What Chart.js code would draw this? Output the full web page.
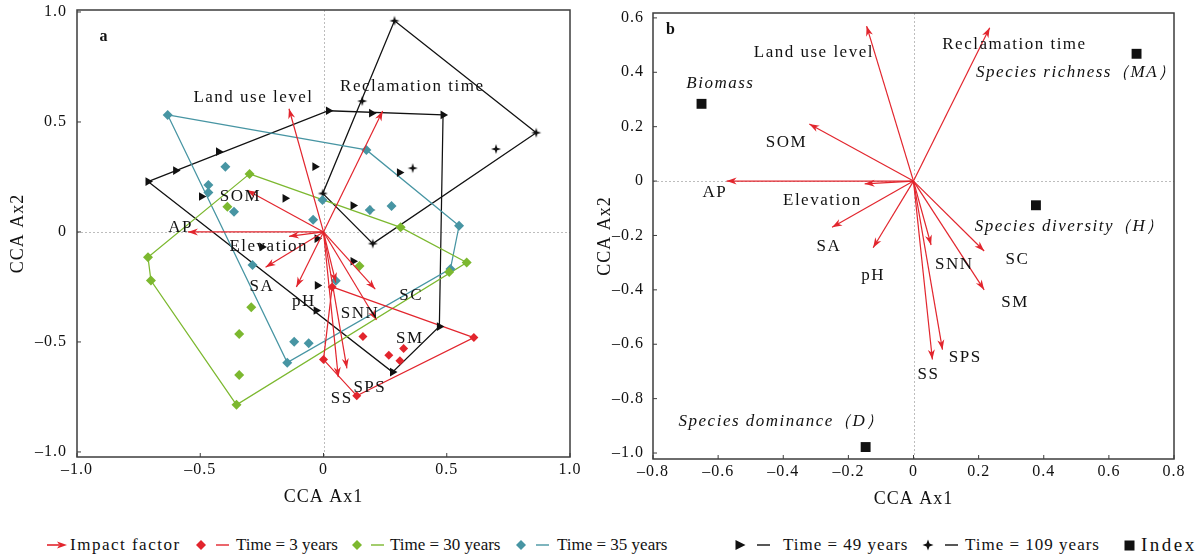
<!DOCTYPE html>
<html>
<head>
<meta charset="utf-8">
<script src="https://cdn.jsdelivr.net/npm/chart.js@4.4.1/dist/chart.umd.min.js"></script>
<style>
  body { margin: 0; background: #fff; width: 1195px; height: 558px; overflow: hidden; position: relative;
         font-family: "Liberation Serif", "Times New Roman", serif; color: #111; }
  #ca { position: absolute; left: 0; top: 0; }
  #cb { position: absolute; left: 592px; top: 0; }
  #legend { position: absolute; left: 0; top: 534px; width: 1195px; height: 22px; font-size: 17px; white-space: nowrap; overflow: hidden; }
  #legend > span { position: absolute; top: 0; height: 22px; display: flex; align-items: center; }
  #legend svg { display: block; }
</style>
</head>
<body>
<canvas id="ca" width="592" height="515"></canvas>
<canvas id="cb" width="603" height="515"></canvas>
<div id="legend"></div>
<script>
// ---- data ----
const factorNames = ['Land use level', 'Reclamation time', 'SOM', 'AP', 'Elevation', 'SA', 'pH', 'SNN', 'SC', 'SM', 'SPS', 'SS'];

// panel a: arrow tips
const factorXa = [-0.14, 0.24, -0.31, -0.55, -0.14, -0.235, -0.11, 0.05, 0.21, 0.215, 0.095, 0.06];
const factorYa = [0.56, 0.55, 0.19, 0.0, -0.02, -0.16, -0.25, -0.23, -0.26, -0.40, -0.62, -0.66];
// panel a: where the factor names sit
const labelXa = [-0.284, 0.36, -0.337, -0.58, -0.222, -0.25, -0.08, 0.148, 0.356, 0.35, 0.188, 0.074];
const labelYa = [0.609, 0.66, 0.159, 0.022, -0.068, -0.25, -0.315, -0.372, -0.288, -0.485, -0.706, -0.756];

// panel b: arrow tips
const factorXb = [-0.144, 0.234, -0.32, -0.574, -0.15, -0.25, -0.124, 0.054, 0.217, 0.217, 0.089, 0.058];
const factorYb = [0.57, 0.564, 0.21, 0.0, -0.01, -0.17, -0.245, -0.235, -0.257, -0.40, -0.62, -0.656];
const labelXb = [-0.306, 0.31, -0.39, -0.61, -0.28, -0.26, -0.124, 0.125, 0.319, 0.312, 0.159, 0.046];
const labelYb = [0.472, 0.503, 0.141, -0.043, -0.071, -0.239, -0.349, -0.306, -0.288, -0.447, -0.65, -0.711];

const seriesNames = ['Time = 3 years', 'Time = 30 years', 'Time = 35 years', 'Time = 49 years', 'Time = 109 years'];

const t3x = [0.035, 0.16, 0.265, 0.325, 0.31, 0.0, 0.135, 0.61];
const t3y = [-0.25, -0.475, -0.56, -0.53, -0.585, -0.58, -0.745, -0.48];
const hull3 = [0, 7, 6, 5, 0];

const t30x = [-0.30, -0.39, 0.313, 0.146, 0.581, 0.51, -0.293, -0.342, -0.342, -0.353, -0.70, -0.712];
const t30y = [0.264, 0.115, 0.021, -0.155, -0.139, -0.182, -0.342, -0.464, -0.65, -0.786, -0.221, -0.115];
const hull30 = [0, 2, 4, 9, 10, 11, 0];

const t35x = [-0.632, 0.174, -0.398, -0.467, -0.467, -0.363, -0.042, -0.004, 0.188, 0.276, 0.55, -0.288, 0.05, -0.119, -0.06, -0.147, 0.515];
const t35y = [0.532, 0.373, 0.297, 0.214, 0.179, 0.092, 0.055, 0.145, 0.10, 0.118, 0.028, -0.15, -0.222, -0.499, -0.506, -0.594, -0.168];
const hull35 = [0, 1, 10, 16, 15, 0];

const t49x = [-0.712, -0.60, -0.426, 0.02, 0.195, 0.485, -0.035, 0.308, -0.495, -0.156, 0.12, -0.026, -0.25, 0.12, -0.025, -0.03, 0.28, 0.47];
const t49y = [0.229, 0.279, 0.365, 0.551, 0.54, 0.532, 0.297, 0.27, 0.161, 0.153, 0.12, -0.03, -0.068, -0.133, -0.243, -0.357, -0.637, -0.43];
const hull49 = [0, 3, 5, 17, 16, 0];

const t109x = [0.288, 0.863, 0.70, 0.362, 0.19, 0.157, -0.003, 0.2];
const t109y = [0.96, 0.451, 0.377, 0.29, 0.10, 0.595, 0.175, -0.053];
const hull109 = [0, 1, 7, 6, 0];

const indexNames = ['Species richness（MA）', 'Biomass', 'Species diversity（H）', 'Species dominance（D）'];
const indexX = [0.685, -0.651, 0.376, -0.147];
const indexY = [0.468, 0.284, -0.089, -0.978];
const indexLabelX = [0.5, -0.593, 0.48, -0.405];
const indexLabelY = [0.398, 0.358, -0.169, -0.885];

const ticksA = [-1, -0.5, 0, 0.5, 1];
const ticksBx = [-0.8, -0.6, -0.4, -0.2, 0, 0.2, 0.4, 0.6, 0.8];
const ticksBy = [-1, -0.8, -0.6, -0.4, -0.2, 0, 0.2, 0.4, 0.6];

// ---- styling ----
const serif = '"Liberation Serif", "Times New Roman", serif';
const red = '#e2252d', green = '#7cb82f', teal = '#4795a3', black = '#111111';
Chart.defaults.font.family = serif;
Chart.defaults.font.size = 16;
Chart.defaults.color = '#111';

function makeStar(r, color) {
  const c = document.createElement('canvas');
  c.width = c.height = 2 * r + 2;
  const g = c.getContext('2d');
  const m = r + 1;
  g.beginPath();
  for (let i = 0; i < 8; i++) {
    const a = i * Math.PI / 4 - Math.PI / 2;
    const rr = i % 2 === 0 ? r : r * 0.33;
    g.lineTo(m + rr * Math.cos(a), m + rr * Math.sin(a));
  }
  g.closePath();
  g.fillStyle = color;
  g.fill();
  return c;
}
const star = makeStar(5, black);

const groups = [
  {xs: t3x, ys: t3y, hull: hull3, color: red, style: 'rectRot', r: 4.5, rot: 0},
  {xs: t30x, ys: t30y, hull: hull30, color: green, style: 'rectRot', r: 5, rot: 0},
  {xs: t35x, ys: t35y, hull: hull35, color: teal, style: 'rectRot', r: 5, rot: 0},
  {xs: t49x, ys: t49y, hull: hull49, color: black, style: 'triangle', r: 5, rot: 90},
  {xs: t109x, ys: t109y, hull: hull109, color: black, style: star, r: 5, rot: 0}
];

function tickText(v) {
  if (Math.abs(v) < 1e-9) return '0';
  return (v < 0 ? '\u2013' : '') + Math.abs(v).toFixed(1);
}

function axis(o) {
  return {
    type: 'linear', min: o.min, max: o.max,
    grid: {display: false, drawTicks: false}, border: {display: false},
    afterBuildTicks: s => { s.ticks = o.ticks.map(v => ({value: v})); },
    afterFit: s => {
      if (o.width) s.width = o.width;
      if (o.height) s.height = o.height;
      // no extra room for overhanging tick labels: the frame is placed by hand
      s.paddingTop = 0; s.paddingBottom = 0; s.paddingLeft = 0; s.paddingRight = 0;
    },
    ticks: {padding: o.pad, autoSkip: false, maxRotation: 0, callback: v => tickText(v)},
    title: {display: true, text: o.title, font: {size: 18}, padding: o.titlePad}
  };
}

function arrowSets(xs, ys) {
  return xs.map((v, i) => ({
    isArrow: true, showLine: true, borderColor: red, borderWidth: 1.2,
    pointRadius: 0, data: [{x: 0, y: 0}, {x: v, y: ys[i]}]
  }));
}

const spacing = {
  id: 'spacing',
  beforeDraw(chart) { chart.ctx.letterSpacing = '1px'; }
};

function makeFrame(letter, lx, ly) {
  return {
    id: 'frame',
    beforeDatasetsDraw(chart) {
      const {ctx, chartArea: a, scales: {x, y}} = chart;
      ctx.save();
      ctx.strokeStyle = '#bdbdbd'; ctx.lineWidth = 1; ctx.setLineDash([2, 2]);
      const x0 = Math.round(x.getPixelForValue(0)) + 0.5;
      const y0 = Math.round(y.getPixelForValue(0)) + 0.5;
      ctx.beginPath();
      ctx.moveTo(x0, a.top); ctx.lineTo(x0, a.bottom);
      ctx.moveTo(a.left, y0); ctx.lineTo(a.right, y0);
      ctx.stroke();
      ctx.restore();
    },
    afterDatasetsDraw(chart) {
      const {ctx, chartArea: a, scales: {x, y}} = chart;
      ctx.save();
      ctx.strokeStyle = '#3c3c3c'; ctx.lineWidth = 1.5;
      ctx.strokeRect(a.left, a.top, a.right - a.left, a.bottom - a.top);
      ctx.lineWidth = 1;
      ctx.beginPath();
      x.ticks.forEach(t => { const p = x.getPixelForValue(t.value); ctx.moveTo(p, a.bottom); ctx.lineTo(p, a.bottom - 4); });
      y.ticks.forEach(t => { const p = y.getPixelForValue(t.value); ctx.moveTo(a.left, p); ctx.lineTo(a.left + 4, p); });
      ctx.stroke();
      ctx.font = 'bold 16px ' + serif; ctx.fillStyle = '#111';
      ctx.textAlign = 'center'; ctx.textBaseline = 'middle';
      ctx.fillText(letter, a.left + lx, a.top + ly);
      ctx.restore();
    }
  };
}

const arrowHeads = {
  id: 'arrowHeads',
  afterDatasetsDraw(chart) {
    const ctx = chart.ctx;
    chart.data.datasets.forEach((ds, i) => {
      if (!ds.isArrow) return;
      const pts = chart.getDatasetMeta(i).data;
      const a = pts[0], b = pts[1];
      const ang = Math.atan2(b.y - a.y, b.x - a.x);
      ctx.save();
      ctx.translate(b.x, b.y); ctx.rotate(ang);
      ctx.beginPath();
      ctx.moveTo(0, 0); ctx.lineTo(-10, -3.5); ctx.lineTo(-7, 0); ctx.lineTo(-10, 3.5);
      ctx.closePath();
      ctx.fillStyle = ds.borderColor; ctx.fill();
      ctx.restore();
    });
  }
};

function makeLabels(items) {
  return {
    id: 'labels',
    afterDatasetsDraw(chart) {
      const {ctx, scales: {x, y}} = chart;
      ctx.save();
      ctx.fillStyle = '#111'; ctx.textAlign = 'center'; ctx.textBaseline = 'middle';
      ctx.letterSpacing = '1.5px';
      items.forEach(it => {
        ctx.font = (it.italic ? 'italic ' : '') + '17px ' + serif;
        ctx.fillText(it.text, x.getPixelForValue(it.x), y.getPixelForValue(it.y));
      });
      ctx.restore();
    }
  };
}

// ---- panel a ----
const dataA = arrowSets(factorXa, factorYa);
groups.forEach(g => {
  dataA.push({
    data: g.xs.map((v, i) => ({x: v, y: g.ys[i]})),
    pointStyle: g.style, pointRadius: g.r, pointRotation: g.rot,
    backgroundColor: g.color, borderColor: g.color, borderWidth: 0
  });
});
groups.forEach(g => {
  dataA.push({
    data: g.hull.map(i => ({x: g.xs[i], y: g.ys[i]})),
    showLine: true, borderColor: g.color, borderWidth: 1.25, pointRadius: 0
  });
});

new Chart(document.getElementById('ca'), {
  type: 'scatter',
  data: {datasets: dataA},
  options: {
    responsive: false, animation: false, devicePixelRatio: 1,
    layout: {autoPadding: false, padding: {left: 0, right: 22, top: 10, bottom: 0}},
    plugins: {legend: {display: false}, tooltip: {enabled: false}},
    scales: {
      x: axis({min: -1, max: 1, ticks: ticksA, height: 58, pad: 3, title: 'CCA Ax1', titlePad: {top: 0, bottom: 7}}),
      y: axis({min: -1.023, max: 1.009, ticks: ticksA, width: 77, pad: 10, title: 'CCA Ax2', titlePad: {top: 7, bottom: 0}})
    }
  },
  plugins: [spacing, makeFrame('a', 27, 27), arrowHeads,
    makeLabels(factorNames.map((t, i) => ({text: t, x: labelXa[i], y: labelYa[i]})))]
});

// ---- panel b ----
const dataB = arrowSets(factorXb, factorYb);
dataB.push({
  data: indexX.map((v, i) => ({x: v, y: indexY[i]})),
  pointStyle: 'rect', pointRadius: 7, backgroundColor: black, borderWidth: 0
});

new Chart(document.getElementById('cb'), {
  type: 'scatter',
  data: {datasets: dataB},
  options: {
    responsive: false, animation: false, devicePixelRatio: 1,
    layout: {autoPadding: false, padding: {left: 0, right: 21, top: 13, bottom: 0}},
    plugins: {legend: {display: false}, tooltip: {enabled: false}},
    scales: {
      x: axis({min: -0.8, max: 0.8, ticks: ticksBx, height: 56, pad: 3, title: 'CCA Ax1', titlePad: {top: 0, bottom: 5}}),
      y: axis({min: -1.022, max: 0.618, ticks: ticksBy, width: 61, pad: 9, title: 'CCA Ax2', titlePad: {top: 2, bottom: 0}})
    }
  },
  plugins: [spacing, makeFrame('b', 18, 17), arrowHeads,
    makeLabels(factorNames.map((t, i) => ({text: t, x: labelXb[i], y: labelYb[i]}))
      .concat(indexNames.map((t, i) => ({text: t, x: indexLabelX[i], y: indexLabelY[i], italic: true}))))]
});

// ---- legend ----
function symbolSvg(kind, color) {
  if (kind === 'arrow') return '<svg width="20" height="10"><line x1="0" y1="5" x2="12" y2="5" stroke="' + color + '" stroke-width="1.6"/><polygon points="20,5 10,1.5 12.5,5 10,8.5" fill="' + color + '"/></svg>';
  if (kind === 'diamond') return '<svg width="12" height="12"><polygon points="6,1 11,6 6,11 1,6" fill="' + color + '"/></svg>';
  if (kind === 'triangle') return '<svg width="12" height="12"><polygon points="1.5,1 11.5,6 1.5,11" fill="' + color + '"/></svg>';
  if (kind === 'star') return '<svg width="12" height="12"><polygon points="6,0.5 7.5,4.5 11.5,6 7.5,7.5 6,11.5 4.5,7.5 0.5,6 4.5,4.5" fill="' + color + '"/></svg>';
  return '<svg width="11" height="11"><rect x="0.5" y="0.5" width="10" height="10" fill="' + color + '"/></svg>';
}
function dashSvg(color) {
  return '<svg width="13" height="4"><line x1="0" y1="2" x2="13" y2="2" stroke="' + color + '" stroke-width="1.4"/></svg>';
}
const legendKinds = ['diamond', 'diamond', 'diamond', 'triangle', 'star'];
const legendSymX = [195, 351, 515, 734, 922];
const legendDashX = [216, 371, 536, 757, 945];
const legendTextX = [236, 390, 557, 783, 965];
let html = '<span style="left:47px">' + symbolSvg('arrow', red) + '</span>' +
           '<span style="left:70px;letter-spacing:1.5px">Impact factor</span>';
seriesNames.forEach((name, i) => {
  const c = groups[i].color;
  html += '<span style="left:' + legendSymX[i] + 'px">' + symbolSvg(legendKinds[i], c) + '</span>' +
          '<span style="left:' + legendDashX[i] + 'px">' + dashSvg(c) + '</span>' +
          '<span style="left:' + legendTextX[i] + 'px;letter-spacing:' + (i > 2 ? 1 : 0) + 'px">' + name + '</span>';
});
html += '<span style="left:1124px">' + symbolSvg('square', black) + '</span>' +
        '<span style="left:1141px;font-size:19px;letter-spacing:2.5px">Index</span>';
document.getElementById('legend').innerHTML = html;
</script>
</body>
</html>
